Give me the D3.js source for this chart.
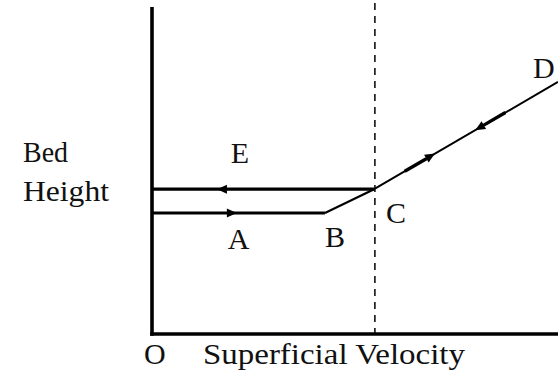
<!DOCTYPE html>
<html>
<head>
<meta charset="utf-8">
<script src="https://cdn.jsdelivr.net/npm/d3@7"></script>
<style>
  html, body { margin: 0; padding: 0; background: #fff; }
  svg { display: block; }
  text { font-family: "Liberation Serif", "Times New Roman", serif; fill: #111; }
</style>
</head>
<body>
<svg id="chart" width="558" height="377"></svg>
<script>
// Bed height vs superficial velocity (arbitrary units, 0-100 on both axes)
const pointNames = ["A", "B", "C", "D", "E"];
const velocity   = [0, 42.6, 54.7, 100];     // start, B, C, D
const bedHeight  = [37.0, 37.0, 44.3, 77.1]; // heights at those velocities
const fluidVelocity = 54.9;                  // minimum fluidization velocity (dashed)
const defluidHeight = 44.3;                  // height on the return path C -> E
const axisLabelX = "Superficial Velocity";
const axisLabelY = ["Bed", "Height"];
const originLabel = "O";

// velocity at each arrow tip, on the rising and on the falling path
const arrowTipsUp   = [20.9, 69.7];
const arrowTipsDown = [16.0, 79.6];

const svg = d3.select("#chart");
const x = d3.scaleLinear().domain([0, 100]).range([152, 558]);
const y = d3.scaleLinear().domain([0, 100]).range([334, 7]);

// increasing-velocity path O..A..B..C..D
const upPath = velocity.map((v, i) => [v, bedHeight[i]]);
// decreasing-velocity path D..C..E
const downPath = [[velocity[3], bedHeight[3]], [velocity[2], bedHeight[2]], [0, defluidHeight]];

function heightAt(path, v) {
  const pts = path.slice().sort((a, b) => a[0] - b[0]);
  for (let i = 0; i < pts.length - 1; i++) {
    if (v >= pts[i][0] && v <= pts[i + 1][0]) {
      const t = (v - pts[i][0]) / (pts[i + 1][0] - pts[i][0]);
      return pts[i][1] + t * (pts[i + 1][1] - pts[i][1]);
    }
  }
  return pts[pts.length - 1][1];
}

const line = d3.line().x(d => x(d[0])).y(d => y(d[1]));

// dashed vertical at fluidization velocity
svg.append("line")
  .attr("x1", x(fluidVelocity)).attr("x2", x(fluidVelocity))
  .attr("y1", 3).attr("y2", y(0))
  .attr("stroke", "#111").attr("stroke-width", 1.6)
  .attr("stroke-dasharray", "7,6");

// fixed-bed segments (thicker) and fluidized segment
svg.append("path").attr("d", line(upPath.slice(0, 2)))
  .attr("fill", "none").attr("stroke", "#000").attr("stroke-width", 3.2);
svg.append("path").attr("d", line(upPath.slice(1, 3)))
  .attr("fill", "none").attr("stroke", "#000").attr("stroke-width", 2.2);
svg.append("path").attr("d", line(upPath.slice(2, 4)))
  .attr("fill", "none").attr("stroke", "#000").attr("stroke-width", 2);
svg.append("path").attr("d", line(downPath.slice(1, 3)))
  .attr("fill", "none").attr("stroke", "#000").attr("stroke-width", 3.2);

// arrowheads
function arrow(path, v, dir, shaft) {
  const v2 = v - dir * 1;
  const p1 = [x(v2), y(heightAt(path, v2))];
  const p0 = [x(v), y(heightAt(path, v))];
  const ang = Math.atan2(p0[1] - p1[1], p0[0] - p1[0]);
  const L = 10, W = 4.5;
  const bx = p0[0] - L * Math.cos(ang), by = p0[1] - L * Math.sin(ang);
  const nx = -Math.sin(ang), ny = Math.cos(ang);
  if (shaft) {
    svg.append("line")
      .attr("x1", bx).attr("y1", by)
      .attr("x2", bx - shaft * Math.cos(ang)).attr("y2", by - shaft * Math.sin(ang))
      .attr("stroke", "#000").attr("stroke-width", 3.4);
  }
  svg.append("path")
    .attr("d", `M${p0[0]},${p0[1]}L${bx + nx * W},${by + ny * W}L${bx - nx * W},${by - ny * W}Z`)
    .attr("fill", "#000");
}
arrow(upPath, arrowTipsUp[0], 1, 0);
arrow(upPath, arrowTipsUp[1], 1, 25);
arrow(downPath, arrowTipsDown[0], -1, 0);
arrow(downPath, arrowTipsDown[1], -1, 25);

// axes
svg.append("line").attr("x1", x(0)).attr("x2", x(0)).attr("y1", y(100)).attr("y2", y(0) + 1.8)
  .attr("stroke", "#000").attr("stroke-width", 3.6);
svg.append("line").attr("x1", x(0) - 1.8).attr("x2", x(100)).attr("y1", y(0)).attr("y2", y(0))
  .attr("stroke", "#000").attr("stroke-width", 3.6);

// text labels
const fs = 30;
const pointLabelAnchors = {
  A: [arrowTipsUp[0], bedHeight[0], -9, 36],
  B: [velocity[1], bedHeight[1], 0, 34],
  C: [velocity[2], bedHeight[2], 12, 34],
  D: [velocity[3], bedHeight[3], -25, -4],
  E: [arrowTipsDown[0] + 3.4, defluidHeight, 0, -26]
};
pointNames.forEach(n => {
  const a = pointLabelAnchors[n];
  svg.append("text").attr("x", x(a[0]) + a[2]).attr("y", y(a[1]) + a[3])
    .attr("font-size", fs).text(n);
});
svg.append("text").attr("x", 144).attr("y", 364).attr("font-size", fs).text(originLabel);
svg.append("text").attr("x", 203).attr("y", 364).attr("font-size", fs)
  .attr("textLength", 262).attr("lengthAdjust", "spacingAndGlyphs").text(axisLabelX);
const yLabelWidths = [45, 86];
axisLabelY.forEach((t, i) => {
  svg.append("text").attr("x", 23).attr("y", 162 + i * 39).attr("font-size", fs)
    .attr("textLength", yLabelWidths[i]).attr("lengthAdjust", "spacingAndGlyphs").text(t);
});
</script>
</body>
</html>
